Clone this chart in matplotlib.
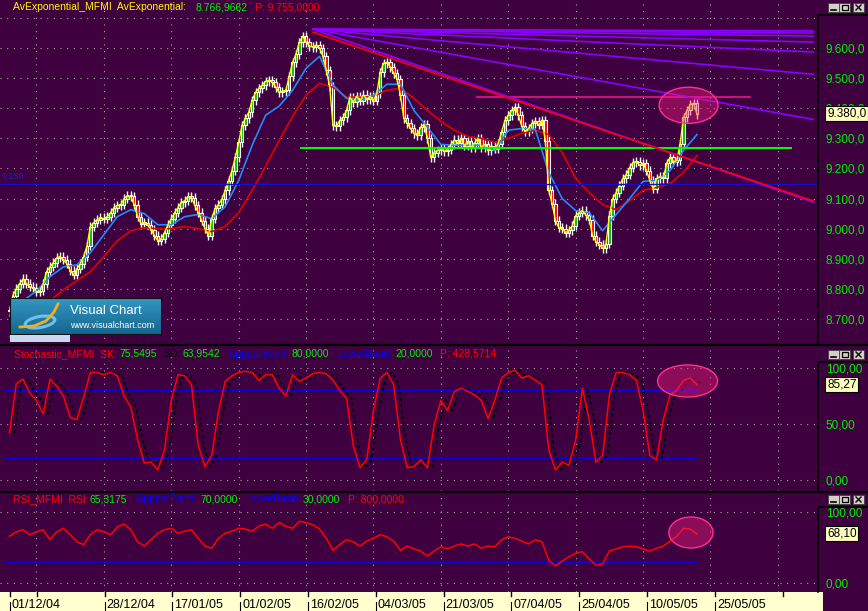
import matplotlib
matplotlib.use("Agg")
import matplotlib.pyplot as plt
from matplotlib.patches import Rectangle, Ellipse
from matplotlib.lines import Line2D
import numpy as np

# precios de cierre por barra
closes = [8727, 8777, 8800, 8817, 8833, 8817, 8807, 8803, 8790, 8793,
          8817, 8857, 8873, 8887, 8903, 8907, 8897, 8883, 8860, 8847,
          8867, 8883, 8907, 8943, 9007, 9020, 9030, 9037, 9033, 9040,
          9053, 9070, 9077, 9080, 9100, 9110, 9107, 9080, 9040, 9017,
          9020, 9013, 8997, 8977, 8960, 8967, 8987, 9013, 9033, 9053,
          9070, 9087, 9093, 9107, 9103, 9077, 9053, 9027, 9000, 8977,
          9033, 9067, 9080, 9097, 9127, 9160, 9193, 9237, 9287, 9343,
          9367, 9387, 9427, 9453, 9467, 9477, 9490, 9493, 9487, 9470,
          9453, 9457, 9460, 9507, 9553, 9580, 9620, 9640, 9620, 9607,
          9603, 9610, 9600, 9573, 9527, 9473, 9343, 9340, 9360, 9370,
          9393, 9437, 9420, 9440, 9425, 9445, 9430, 9440, 9425, 9450,
          9520, 9550, 9553, 9537, 9517, 9497, 9443, 9367, 9350, 9333,
          9317, 9310, 9337, 9347, 9300, 9237, 9253, 9260, 9267, 9257,
          9263, 9280, 9295, 9285, 9300, 9275, 9290, 9270, 9285, 9300,
          9270, 9280, 9260, 9275, 9265, 9283, 9320, 9360, 9377, 9393,
          9403, 9377, 9340, 9323, 9333, 9350, 9357, 9345, 9360, 9293,
          9127, 9083, 9027, 9003, 9000, 8987, 8995, 9010, 9043, 9053,
          9060, 9045, 9030, 8977, 8957, 8947, 8935, 8950, 9043, 9100,
          9120, 9143, 9167, 9180, 9203, 9220, 9223, 9210, 9217, 9193,
          9160, 9133, 9167, 9173, 9167, 9217, 9237, 9223, 9227, 9283,
          9370, 9393, 9413, 9417, 9380]

# medias exponenciales (cada 4 barras)
ema_blue = [8710, 8760, 8793, 8840, 8873, 8880, 8920, 8980, 9040, 9063,
            9050, 9013, 9013, 9040, 9047, 9033, 9073, 9160, 9277, 9377,
            9407, 9460, 9533, 9573, 9477, 9433, 9427, 9443, 9480, 9480,
            9393, 9337, 9280, 9277, 9277, 9277, 9260, 9327, 9333, 9330,
            9187, 9100, 9060, 9053, 8993, 9047, 9100, 9157, 9160, 9193,
            9260, 9313]
ema_red = [8640, 8677, 8720, 8760, 8797, 8827, 8857, 8907, 8960, 8993,
           9003, 9000, 9000, 9007, 9000, 8990, 9007, 9053, 9127, 9207,
           9293, 9373, 9443, 9483, 9470, 9437, 9437, 9440, 9460, 9467,
           9433, 9393, 9357, 9327, 9307, 9300, 9287, 9300, 9317, 9327,
           9313, 9253, 9167, 9120, 9080, 9063, 9093, 9127, 9137, 9150,
           9187, 9243]

# estocástico SK (cada 2 barras)
stoch_sk = [42, 86, 90, 78, 71, 59, 90, 84, 75, 56,
            54, 74, 96, 96, 94, 96, 93, 75, 65, 36,
            15, 16, 9, 27, 71, 94, 93, 85, 31, 12,
            22, 61, 88, 93, 96, 97, 96, 89, 94, 94,
            82, 75, 94, 88, 91, 95, 96, 95, 89, 80,
            73, 31, 11, 18, 62, 91, 96, 85, 36, 11,
            12, 18, 11, 49, 71, 62, 79, 82, 79, 76,
            71, 55, 71, 91, 96, 98, 91, 93, 89, 85,
            27, 9, 16, 13, 36, 82, 54, 16, 22, 76,
            96, 96, 94, 89, 62, 22, 18, 54, 76, 80,
            89, 91, 85]

# RSI (cada 2 barras)
rsi = [66, 72, 75, 68, 72, 75, 61, 72, 77, 68,
       58, 54, 68, 75, 72, 68, 79, 83, 75, 58,
       52, 61, 70, 75, 77, 70, 73, 75, 63, 52,
       49, 63, 70, 73, 77, 76, 73, 80, 83, 77,
       85, 80, 77, 87, 85, 82, 76, 63, 46, 54,
       61, 58, 52, 59, 63, 68, 65, 59, 46, 52,
       48, 45, 38, 45, 51, 48, 52, 55, 52, 55,
       49, 52, 51, 61, 65, 63, 59, 55, 61, 58,
       32, 24, 31, 37, 42, 44, 34, 25, 27, 45,
       48, 51, 52, 51, 48, 45, 49, 52, 59, 66,
       77, 76, 69]

# objetos dibujados: (barra, precio)
fan_start = (90, 9663)
fan_end_bar = 238.5
fan_end_prices = [9657, 9650, 9640, 9620, 9587, 9513, 9363]
trend_red = [(90, 9653), (238.5, 9092)]
trend_purple = [(90, 9663), (238.5, 9088)]
resist_level, resist_span = 9437, (138.7, 219.7)
support_level, support_span = 9267, (86.5, 231.9)
blue_level = 9150

grid_bars = [8, 28, 48, 68, 88, 108, 128, 148, 168, 188, 208, 228]
date_bars = [0, 28, 48, 68, 88, 108, 128, 148, 168, 188, 208]
date_labels = ['01/12/04', '28/12/04', '17/01/05', '01/02/05', '16/02/05', '04/03/05',
               '21/03/05', '07/04/05', '25/04/05', '10/05/05', '25/05/05']

W, H = 868, 611
BG = '#3f003f'
GREEN = '#00f000'
GRIDC = '#a8a8a8'
XMIN, XMAX = -2.82, 239.9
plt.rcParams['font.family'] = ['Liberation Sans', 'DejaVu Sans']

fig = plt.figure(figsize=(W / 100, H / 100), dpi=100)
fig.patch.set_facecolor(BG)


def es(v, d):
    s = f"{v:,.{d}f}"
    return s.replace(',', 'X').replace('.', ',').replace('X', '.')


def pane(top, bottom, ylim):
    ax = fig.add_axes([0, 1 - bottom / H, 818 / W, (bottom - top) / H])
    ax.set_facecolor(BG)
    for s in ax.spines.values():
        s.set_visible(False)
    ax.set_xlim(XMIN, XMAX)
    ax.set_ylim(*ylim)
    ax.set_xticks([])
    ax.yaxis.tick_right()
    ax.tick_params(axis='y', length=3.5, width=1, color='#202020', labelcolor=GREEN,
                   labelsize=8.5, pad=2)
    for b in grid_bars:
        ax.axvline(b, color=GRIDC, lw=0.8, ls=(0, (1, 5)), zorder=0)
    return ax


def ftext(x, y, s, **kw):
    return fig.text(x / W, 1 - y / H, s, **kw)


def fline(xs, ys, **kw):
    fig.add_artist(Line2D([x / W for x in xs], [1 - y / H for y in ys], **kw))


def frect(x0, y0, w, h, **kw):
    fig.add_artist(Rectangle((x0 / W, 1 - (y0 + h) / H), w / W, h / H,
                             transform=fig.transFigure, **kw))


# ---------- precio ----------
ax = pane(0, 345, (8613.3, 9760))
for p in range(8700, 9800, 100):
    ax.axhline(p, color=GRIDC, lw=0.8, ls=(0, (1, 5)), zorder=0)
ax.set_yticks(range(8700, 9700, 100))
ax.set_yticklabels([es(p, 1) for p in range(8700, 9700, 100)])

bars = np.arange(len(closes))
c = np.array(closes, dtype=float)
o = np.concatenate([[c[0]], c[:-1]])
lo = np.minimum(o, c)
hi = np.maximum(o, c)
wick = 15
ax.vlines(bars, lo - wick, hi + wick, color='white', lw=1, zorder=2)
cols = np.where(c >= o, '#00c000', '#ff0000')
ax.bar(bars, np.maximum(hi - lo, 4), bottom=lo, width=0.75, color=cols,
       edgecolor='white', linewidth=0.8, zorder=2)

ema_x = np.arange(0, len(closes), 4)
ax.plot(ema_x, ema_red, color='#e00000', lw=1.2, zorder=3)
ax.plot(ema_x, ema_blue, color='#1e8cff', lw=1.2, zorder=3)
ax.plot(bars, closes, color='#ffff00', lw=1.0, zorder=3)

ax.axhline(blue_level, color='#1010d0', lw=1, zorder=3)
ax.text(-2.2, blue_level + 8, es(blue_level, 0), color='#2020c0', fontsize=6.5,
        va='bottom', ha='left')
ax.plot(support_span, [support_level] * 2, color='#00ff00', lw=1.4, zorder=4)
ax.plot(resist_span, [resist_level] * 2, color='#e8148c', lw=1.2, zorder=4)
for pe in fan_end_prices:
    ax.plot([fan_start[0], fan_end_bar], [fan_start[1], pe], color='#8c00ff', lw=1.2, zorder=4)
ax.plot(*zip(*trend_purple), color='#8c00ff', lw=1.3, zorder=4)
ax.plot(*zip(*trend_red), color='#ff0000', lw=1.2, zorder=4)
ax.add_patch(Ellipse((201.5, 9410), 17.5, 120, facecolor=(1.0, 0.12, 0.5, 0.4),
                     edgecolor='#ff3090', lw=1, zorder=5))

# ---------- estocástico ----------
ax2 = pane(347, 491, (-9.8, 118.75))
for v in (0, 50, 100):
    ax2.axhline(v, color=GRIDC, lw=0.8, ls=(0, (1, 5)), zorder=0)
ax2.set_yticks([0, 50, 100])
ax2.set_yticklabels([es(v, 2) for v in (0, 50, 100)])
ax2.plot([-1.5, 204], [80, 80], color='#0000ff', lw=1.2, zorder=2)
ax2.plot([-1.5, 204], [20, 20], color='#0000ff', lw=1.2, zorder=2)
sx = np.arange(0, len(closes), 2)
ax2.plot(sx + 1.5, stoch_sk, color='black', lw=1.1, ls=(0, (2, 2)), zorder=3)
ax2.plot(sx, stoch_sk, color='#ff0000', lw=1.1, zorder=4)
ax2.add_patch(Ellipse((201.2, 88.4), 17.8, 28.6, facecolor=(1.0, 0.12, 0.5, 0.4),
                      edgecolor='#ff3090', lw=1, zorder=5))

# ---------- RSI ----------
ax3 = pane(493, 592, (-12.7, 126.8))
for v in (0, 100):
    ax3.axhline(v, color=GRIDC, lw=0.8, ls=(0, (1, 5)), zorder=0)
ax3.set_yticks([0, 100])
ax3.set_yticklabels([es(v, 2) for v in (0, 100)])
ax3.plot([-1.5, 204], [30, 30], color='#0000ff', lw=1.2, zorder=2)
rx = np.arange(0, len(closes), 2)
ax3.plot(rx, rsi, color='#ff0000', lw=1.1, zorder=4)
ax3.add_patch(Ellipse((202.2, 71.1), 13.1, 43.7, facecolor=(1.0, 0.12, 0.5, 0.4),
                      edgecolor='#ff3090', lw=1, zorder=5))

# ---------- eje de fechas ----------
axd = fig.add_axes([0, 0, 823 / W, 19 / H])
axd.set_facecolor('#ffffd0')
for s in axd.spines.values():
    s.set_visible(False)
axd.set_xlim(XMIN, XMAX)
axd.set_ylim(19, 0)
axd.set_xticks([])
axd.set_yticks([])
for b in sorted(set(grid_bars + date_bars)):
    axd.plot([b, b], [0, 4], color='black', lw=1)
for b, lab in zip(date_bars, date_labels):
    axd.plot([b, b], [10, 19], color='black', lw=0.8)
    axd.text(b + 0.6, 13.5, lab, fontsize=9, color='black', va='center', ha='left')

# ---------- bordes ----------
fline([0, 868], [345.5, 345.5], color='black', lw=1.6)
fline([0, 868], [491.5, 491.5], color='black', lw=1.6)
for y0, y1 in ((15, 345), (362, 491), (507, 592)):
    fline([818, 818], [y0, y1], color='black', lw=1.2)
    fline([818, 868], [y0, y0], color='black', lw=1.2)


def buttons(ytop):
    for x0 in (828, 839, 853):
        frect(x0, ytop, 11, 9, facecolor='#d4d0c8', edgecolor='#404040', lw=0.6)
    fline([830.5, 835.5], [ytop + 7, ytop + 7], color='black', lw=1.2)
    frect(841.5, ytop + 2, 6, 5, facecolor='none', edgecolor='black', lw=0.9)
    fline([856, 861], [ytop + 2, ytop + 7], color='black', lw=1)
    fline([856, 861], [ytop + 7, ytop + 2], color='black', lw=1)


buttons(3)
buttons(350)
buttons(495)


def valbox(y, s):
    ftext(821, y, '<', fontsize=5, color='#202020', va='center', ha='center')
    ftext(827, y, s, fontsize=8.5, color='black', va='center', ha='left', zorder=10,
          bbox=dict(boxstyle='square,pad=0.15', facecolor='#ffffc0', edgecolor='black', lw=0.8))


valbox(113.5, '9.380,0')
valbox(384.5, '85,27')
valbox(533.5, '68,10')


def header(y, parts):
    for x, s, col in parts:
        ftext(x, y, s, fontsize=7.5, color=col, va='center', ha='left')


header(7, [(13, 'AvExponential_MFMI  AvExponential:', '#ffff00'),
           (195, '8.766,9662', GREEN), (255, 'P: 9.755,0000', '#ff0000')])
header(354, [(14, 'Stochastic_MFMI  SK:', '#ff0000'), (119, '75,5495', GREEN),
             (164, 'SD:', 'black'), (182.5, '63,9542', GREEN),
             (228, 'UppperBand:', '#0000ff'), (292, '80,0000', GREEN),
             (337, 'LowerBand:', '#0000ff'), (395, '20,0000', GREEN),
             (440, 'P: 428,5714', '#ff0000')])
header(499, [(13, 'RSI_MFMI  RSI:', '#ff0000'), (90, '65,3175', GREEN),
             (136, 'UppperBand:', '#0000ff'), (200, '70,0000', GREEN),
             (245, 'LowerBand:', '#0000ff'), (303, '30,0000', GREEN),
             (348, 'P: 800,0000', '#ff0000')])

# ---------- logo ----------
frect(10, 335, 60, 7, facecolor='#c8d8f0', edgecolor='none')
axl = fig.add_axes([10 / W, 1 - 335 / H, 152 / W, 37 / H])
axl.set_xlim(10, 162)
axl.set_ylim(335, 298)
axl.axis('off')
grad = np.linspace(0, 1, 37)[:, None] * np.ones((1, 10))
axl.imshow(grad, extent=(10, 162, 335, 298), aspect='auto', cmap=matplotlib.colors.LinearSegmentedColormap.from_list('lg', ['#3496c0', '#14668e']), zorder=0)
axl.add_patch(Rectangle((10, 298), 152, 37, facecolor='none', edgecolor='#101010', lw=1.5, zorder=3))
axl.add_patch(Ellipse((40, 322), 30, 11, angle=-10, facecolor='none', edgecolor='#6ec0ec', lw=2.2, zorder=1))
axl.plot([20, 34, 46, 54, 58], [327, 326, 321, 312, 304], color='#f0b020', lw=2, zorder=2)
axl.text(70, 311, 'Visual Chart', fontsize=9.5, color='white', va='center', ha='left', zorder=4)
axl.text(70, 326, 'www.visualchart.com', fontsize=6.5, color='white', va='center', ha='left', zorder=4)

fig.savefig('out.png', dpi=100, facecolor=BG)
